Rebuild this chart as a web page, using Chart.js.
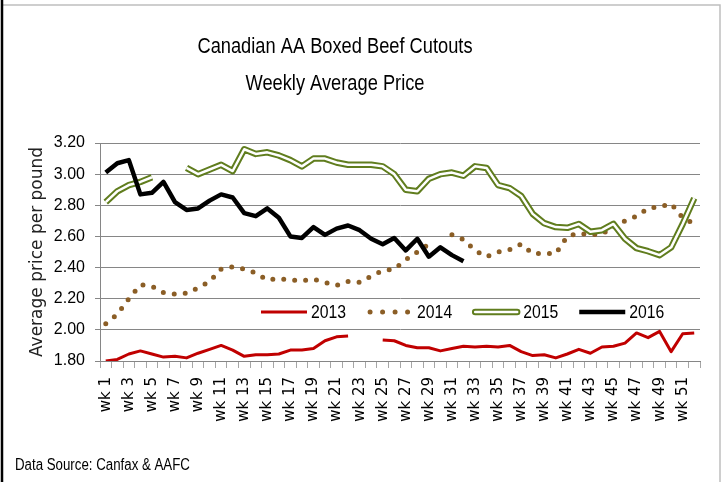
<!DOCTYPE html>
<html>
<head>
<meta charset="utf-8">
<script src="https://cdn.jsdelivr.net/npm/chart.js@4.4.1/dist/chart.umd.min.js"></script>
<style>
  html, body { margin: 0; padding: 0; background: #fff; }
  #wrap { width: 723px; height: 482px; }
</style>
</head>
<body>
<div id="wrap"><canvas id="chart" width="723" height="482"></canvas></div>
<script>
const weeks = ['wk 1','wk 2','wk 3','wk 4','wk 5','wk 6','wk 7','wk 8','wk 9','wk 10',
  'wk 11','wk 12','wk 13','wk 14','wk 15','wk 16','wk 17','wk 18','wk 19','wk 20',
  'wk 21','wk 22','wk 23','wk 24','wk 25','wk 26','wk 27','wk 28','wk 29','wk 30',
  'wk 31','wk 32','wk 33','wk 34','wk 35','wk 36','wk 37','wk 38','wk 39','wk 40',
  'wk 41','wk 42','wk 43','wk 44','wk 45','wk 46','wk 47','wk 48','wk 49','wk 50',
  'wk 51','wk 52'];

const price2013 = [1.80,1.81,1.845,1.865,1.845,1.825,1.83,1.82,1.85,1.875,
  1.90,1.87,1.83,1.84,1.84,1.845,1.87,1.87,1.88,1.93,
  1.955,1.96,null,null,1.935,1.93,1.90,1.885,1.885,1.865,
  1.88,1.895,1.89,1.895,1.89,1.90,1.86,1.835,1.84,1.82,
  1.845,1.875,1.85,1.89,1.895,1.915,1.98,1.95,1.99,1.86,
  1.975,1.98];

const price2014 = [2.04,2.10,2.20,2.29,2.28,2.24,2.23,2.235,2.27,2.31,
  2.39,2.405,2.39,2.365,2.32,2.33,2.32,2.315,2.325,2.305,
  2.285,2.31,2.305,2.345,2.38,2.39,2.45,2.50,2.55,null,
  2.61,2.58,2.51,2.47,2.50,2.515,2.55,2.49,2.49,2.49,
  2.60,2.62,2.61,2.615,2.66,2.70,2.73,2.78,2.79,2.81,
  2.72,2.68];

const price2015 = [2.82,2.89,2.93,2.95,2.98,null,null,3.04,3.00,3.03,
  3.06,3.02,3.16,3.13,3.14,3.12,3.09,3.05,3.10,3.10,
  3.075,3.06,3.06,3.06,3.05,3.00,2.90,2.89,2.97,3.00,
  3.01,2.99,3.05,3.04,2.93,2.91,2.86,2.745,2.685,2.66,
  2.655,2.68,2.63,2.64,2.68,2.585,2.525,2.505,2.48,2.53,
  2.68,2.845];

const price2016 = [3.01,3.07,3.09,2.87,2.88,2.95,2.82,2.77,2.78,2.83,
  2.87,2.85,2.75,2.73,2.78,2.72,2.60,2.59,2.66,2.61,
  2.65,2.67,2.64,2.585,2.55,2.59,2.51,2.585,2.47,2.53,
  2.48,2.44];

const seriesNames = ['2013','2014','2015','2016'];
const yTicks = [1.80,2.00,2.20,2.40,2.60,2.80,3.00,3.20];

const RED = '#c00000', BROWN = '#8b5e26', GREEN = '#607d1e', BLACK = '#000000';
const SANS = '"Liberation Sans", Arial, sans-serif';
const SQUEEZE = 0.83; // narrow the text like the original's condensed face

// text drawn a bit condensed (no narrow font installed)
function narrowText(ctx, text, x, y, align) {
  ctx.save();
  ctx.translate(x, y);
  ctx.scale(SQUEEZE, 1);
  ctx.textAlign = align;
  ctx.fillText(text, 0, 0);
  ctx.restore();
}

function drawLegendSymbol(ctx, kind, x, y, w) {
  ctx.save();
  ctx.lineJoin = 'round';
  if (kind === 'dots') {
    ctx.strokeStyle = BROWN; ctx.lineWidth = 5; ctx.lineCap = 'round';
    ctx.setLineDash([0, 12.5]);
    ctx.beginPath(); ctx.moveTo(x + 3, y); ctx.lineTo(x + w - 4, y); ctx.stroke();
  } else if (kind === 'double') {
    ctx.strokeStyle = GREEN; ctx.lineWidth = 6.5; ctx.lineCap = 'round';
    ctx.beginPath(); ctx.moveTo(x + 2, y); ctx.lineTo(x + w - 2, y); ctx.stroke();
    ctx.strokeStyle = '#fff'; ctx.lineWidth = 2.5;
    ctx.beginPath(); ctx.moveTo(x + 2, y); ctx.lineTo(x + w - 2, y); ctx.stroke();
  } else {
    ctx.strokeStyle = kind; ctx.lineWidth = kind === BLACK ? 4.5 : 3;
    ctx.beginPath(); ctx.moveTo(x, y); ctx.lineTo(x + w, y); ctx.stroke();
  }
  ctx.restore();
}

const decor = {
  id: 'decor',
  beforeDraw(chart) {
    const ctx = chart.ctx;
    ctx.save();
    ctx.fillStyle = '#fff';
    ctx.fillRect(0, 0, chart.width, chart.height);
    ctx.restore();
  },
  afterDraw(chart) {
    const ctx = chart.ctx;
    ctx.save();
    // frame
    ctx.strokeStyle = '#bfbfbf'; ctx.lineWidth = 1.5;
    ctx.beginPath(); ctx.moveTo(3, 5); ctx.lineTo(720, 5); ctx.lineTo(720, 482); ctx.stroke();
    ctx.strokeStyle = '#000'; ctx.lineWidth = 2.5;
    ctx.beginPath(); ctx.moveTo(2, 0); ctx.lineTo(2, 482); ctx.stroke();

    // title
    ctx.fillStyle = '#000';
    ctx.textBaseline = 'middle';
    ctx.font = '22px ' + SANS;
    narrowText(ctx, 'Canadian AA Boxed Beef Cutouts', 335, 47, 'center');
    narrowText(ctx, 'Weekly Average Price', 335, 84, 'center');

    // source
    ctx.font = '16px ' + SANS;
    narrowText(ctx, 'Data Source: Canfax & AAFC', 15, 466, 'left');

    // legend
    const kinds = [RED, 'dots', 'double', BLACK];
    ctx.font = '19px ' + SANS;
    let x = 261;
    const y = 312;
    seriesNames.forEach((name, i) => {
      drawLegendSymbol(ctx, kinds[i], x, y, 46);
      ctx.fillStyle = '#000';
      narrowText(ctx, name, x + 50, y + 1, 'left');
      x += 50 + ctx.measureText(name).width * SQUEEZE + 21;
    });
    ctx.restore();
  }
};

const ctx = document.getElementById('chart').getContext('2d');
new Chart(ctx, {
  type: 'line',
  data: {
    labels: weeks,
    datasets: [
      { label: '2013', data: price2013, borderColor: RED, borderWidth: 3, order: 5 },
      { label: '2014', data: price2014, borderColor: BROWN, borderWidth: 5,
        borderDash: [0, 11], borderCapStyle: 'round', order: 4 },
      { label: '2015', data: price2015, borderColor: GREEN, borderWidth: 6.5, order: 3 },
      { label: '2015 inner', data: price2015, borderColor: '#ffffff', borderWidth: 2.5, order: 2 },
      { label: '2016', data: price2016, borderColor: BLACK, borderWidth: 4.5, order: 1 }
    ]
  },
  options: {
    responsive: false,
    animation: false,
    events: [],
    spanGaps: false,
    elements: {
      point: { radius: 0 },
      line: { tension: 0, borderJoinStyle: 'round', fill: false }
    },
    layout: { padding: { top: 143, right: 23, left: 0, bottom: 0 } },
    plugins: {
      legend: { display: false },
      tooltip: { enabled: false },
      title: { display: false }
    },
    scales: {
      x: {
        type: 'category',
        offset: true,
        grid: { offset: true, drawOnChartArea: false, drawTicks: true, tickLength: 7, color: '#a6a6a6' },
        border: { color: '#868686', width: 1 },
        ticks: {
          autoSkip: false, minRotation: 90, maxRotation: 90, padding: 9,
          color: '#000', font: { family: 'DejaVu Sans', size: 15 },
          callback: function(v, i) { return i % 2 === 0 ? this.getLabelForValue(v) : ''; }
        },
        afterFit: s => { s.height = 121; }
      },
      y: {
        min: 1.8, max: 3.2,
        afterBuildTicks: s => { s.ticks = yTicks.map(v => ({ value: v })); },
        grid: { color: '#868686', lineWidth: 1, drawTicks: true, tickLength: 5 },
        border: { color: '#868686', width: 1 },
        ticks: {
          padding: 10, color: '#000', font: { family: SANS, size: 16 },
          callback: v => Number(v).toFixed(2)
        },
        title: {
          display: true, text: 'Average price per pound', color: '#222',
          font: { family: 'DejaVu Sans', size: 17 }, padding: { top: 27, bottom: 0 }
        },
        afterFit: s => { s.width = 100; }
      }
    }
  },
  plugins: [decor]
});
</script>
</body>
</html>
